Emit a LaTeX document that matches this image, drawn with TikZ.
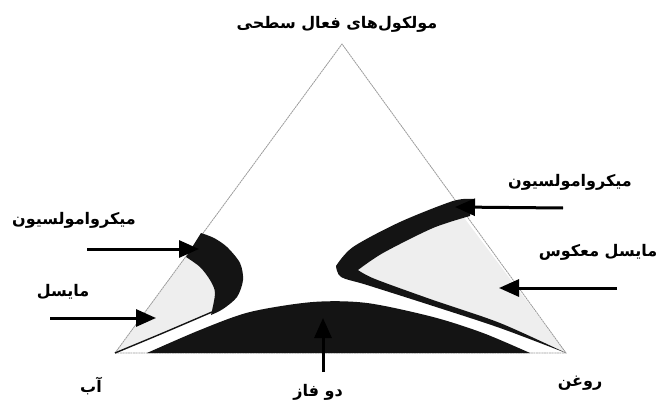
\documentclass[tikz,border=0pt]{standalone}
\usepackage{fontspec}
\TeXXeTstate=1
\newfontfamily\arabicfont[Script=Arabic,BoldFont={DejaVu Sans Bold}]{DejaVu Sans}
\usetikzlibrary{arrows.meta}
\definecolor{blk}{HTML}{141414}
\definecolor{gry}{HTML}{EEEEEE}
\begin{document}
\begin{tikzpicture}[x=1pt,y=-1pt,
  lbl/.style={font=\arabicfont\bfseries\fontsize{16}{18}\selectfont, inner sep=0pt},
  arr/.style={line width=3pt, -{Triangle[length=20pt,width=17pt]}},
  tri/.style={draw=gray!80, line width=0.8pt, dash pattern=on 2pt off 0.6pt}]
\useasboundingbox (0,0) rectangle (661,409);
\coordinate (A) at (115,353);
\coordinate (O) at (566,353);
\coordinate (S) at (342,44);
% grey regions
\fill[gry] plot[smooth] coordinates {(186,257) (200,267) (210,280) (215,293) (212,312)}
  -- plot[smooth] coordinates {(212,312) (163,333) (115,353)} -- cycle;
\fill[gry] (462,215) -- (O)
  -- plot[smooth] coordinates {(566,353) (500,323) (433,300) (375,279) (358,270)}
  -- plot[smooth] coordinates {(358,270) (383,253) (433,228) (462,218)} -- cycle;
% triangle
\draw[tri] (A) -- (S) -- (O) -- cycle;
% two-phase dome
\fill[blk] plot[smooth] coordinates {(147,353) (200,330) (250,312) (313,302) (367,303) (433,317) (483,333) (530,353)} -- cycle;
% micelle lower edge
\draw[blk, line width=1.4pt] plot[smooth] coordinates {(212,312) (163,333) (115,353)};
% left crescent
\fill[blk] plot[smooth] coordinates {(201,233) (214,238) (227,247) (240,263) (243,280) (237,297) (223,309) (211,315)}
  -- plot[smooth] coordinates {(211,315) (215,293) (210,280) (200,267) (186,257)} -- cycle;
% right band with lower arm
\fill[blk] plot[smooth] coordinates {(473,199) (453,201) (400,222) (353,247) (336,266)}
  -- plot[smooth] coordinates {(336,266) (341,277) (367,285) (433,306) (500,328) (566,353)}
  -- plot[smooth] coordinates {(566,353) (500,323) (433,300) (375,279) (358,270)}
  -- plot[smooth] coordinates {(358,270) (383,253) (433,228) (470,216)} -- cycle;
% arrows
\coordinate (m1s) at (87,249);  \coordinate (m1e) at (199,249);
\coordinate (m2s) at (50,318);  \coordinate (m2e) at (156,318);
\coordinate (m3s) at (563,208); \coordinate (m3e) at (455,207);
\coordinate (m4s) at (617,288); \coordinate (m4e) at (499,288);
\coordinate (m5s) at (323,372); \coordinate (m5e) at (323,318);
\draw[arr] (m1s) -- (m1e);
\draw[arr] (m2s) -- (m2e);
\draw[arr] (m3s) -- (m3e);
\draw[arr] (m4s) -- (m4e);
\draw[arr] (m5s) -- (m5e);
% labels
\node[lbl] (top) at (337,24) {\beginR مولکول‌های فعال سطحی\endR};
\node[lbl] (mer) at (570,182) {\beginR میکروامولسیون\endR};
\node[lbl] (rm) at (598,252) {\beginR مایسل معکوس\endR};
\node[lbl] (mel) at (74,220) {\beginR میکروامولسیون\endR};
\node[lbl] (mic) at (63,292) {\beginR مایسل\endR};
\node[lbl] (ab) at (91,386) {\beginR آب\endR};
\node[lbl] (df) at (318,392) {\beginR دو فاز\endR};
\node[lbl] (oil) at (580,383) {\beginR روغن\endR};
\end{tikzpicture}
\end{document}
